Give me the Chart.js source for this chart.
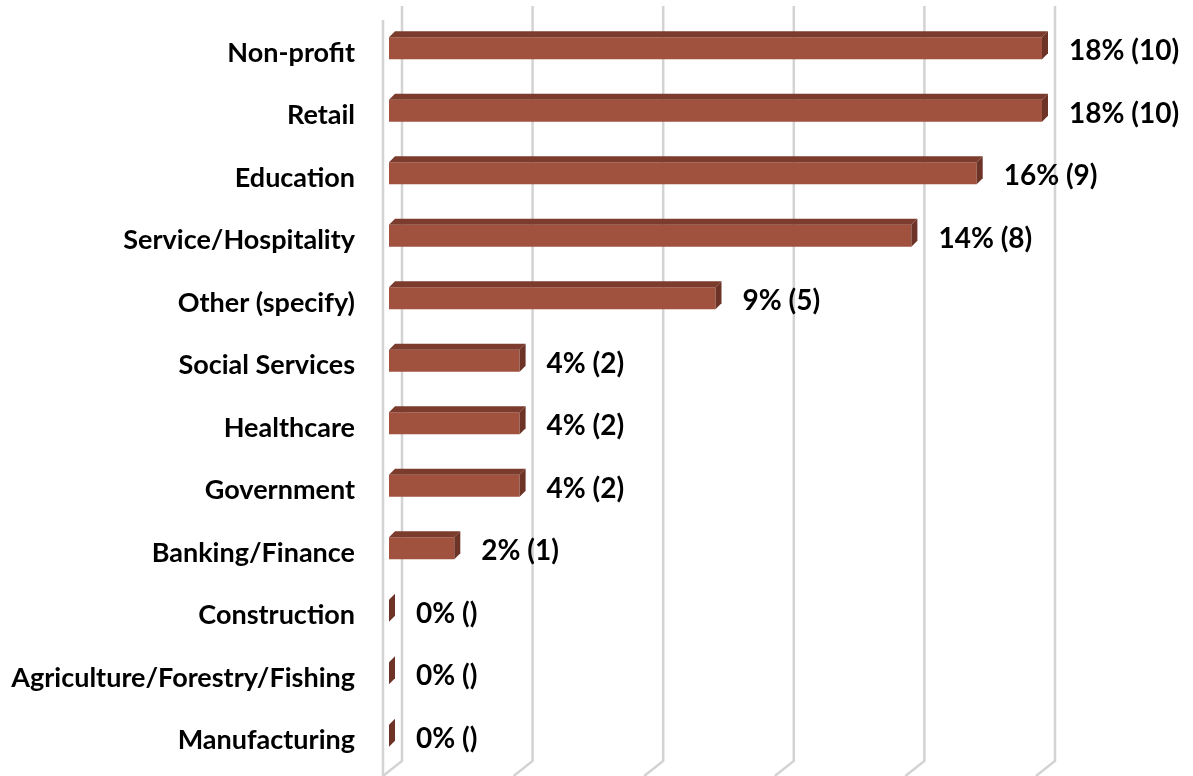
<!DOCTYPE html>
<html>
<head>
<meta charset="utf-8">
<script src="https://cdn.jsdelivr.net/npm/chart.js@4/dist/chart.umd.min.js"></script>
<style>
  html, body { margin: 0; padding: 0; background: #fff; }
  #wrap { width: 1193px; height: 776px; position: relative; }
</style>
</head>
<body>
<div id="wrap"><canvas id="chartSetor"></canvas></div>
<script>
/* =========================
   DADOS
========================= */

const categorias = [
  "Non-profit",
  "Retail",
  "Education",
  "Service/Hospitality",
  "Other (specify)",
  "Social Services",
  "Healthcare",
  "Government",
  "Banking/Finance",
  "Construction",
  "Agriculture/Forestry/Fishing",
  "Manufacturing"
];

const contagens = [10, 10, 9, 8, 5, 2, 2, 2, 1, 0, 0, 0];
const percentuais = [18, 18, 16, 14, 9, 4, 4, 4, 2, 0, 0, 0];

const gradeValores = [0, 2, 4, 6, 8, 10];

/* =========================
   ESTILO 3D
========================= */

const FONTE = "Lato";
const COR_FRENTE = "#a0523e";
const COR_TOPO = "#7b3b2d";
const COR_LADO = "#6c3326";
const COR_GRADE = "#d3d3d3";

// profundidade da "caixa" (parede do fundo)
const FUNDO_DX = 19;
const FUNDO_DY = 15;
// posição da barra dentro da profundidade
const BARRA_DX = 6;
const BARRA_DY = 6;

/* =========================
   PLUGIN: GRADE + FACES
========================= */

const grade3d = {
  id: "grade3d",
  beforeDatasetsDraw(chart) {
    const { ctx, chartArea, scales } = chart;
    const x = scales.x;
    const topoFundo = 6;
    const chaoFundo = chartArea.bottom - 6;

    ctx.save();
    ctx.strokeStyle = COR_GRADE;
    ctx.lineWidth = 2.5;

    gradeValores.forEach(v => {
      // linha do fundo fica atrás da barra
      const xf = x.getPixelForValue(v) + (FUNDO_DX - BARRA_DX);
      ctx.beginPath();
      ctx.moveTo(xf, topoFundo);
      ctx.lineTo(xf, chaoFundo);
      ctx.lineTo(xf - FUNDO_DX, chaoFundo + FUNDO_DY);
      ctx.stroke();
    });

    // aresta da frente da parede esquerda
    const xParede = x.getPixelForValue(0) - BARRA_DX;
    ctx.beginPath();
    ctx.moveTo(xParede, topoFundo + FUNDO_DY - 1);
    ctx.lineTo(xParede, chart.height);
    ctx.stroke();
    ctx.restore();
  },

  afterDatasetsDraw(chart) {
    const { ctx } = chart;
    const meta = chart.getDatasetMeta(0);

    ctx.save();
    meta.data.forEach((bar, i) => {
      const base = bar.base;
      const fim = bar.x;
      const topo = bar.y - bar.height / 2;
      const baixo = bar.y + bar.height / 2;

      // face de cima
      if (fim > base) {
        ctx.fillStyle = COR_TOPO;
        ctx.beginPath();
        ctx.moveTo(base, topo);
        ctx.lineTo(base + BARRA_DX, topo - BARRA_DY);
        ctx.lineTo(fim + BARRA_DX, topo - BARRA_DY);
        ctx.lineTo(fim, topo);
        ctx.closePath();
        ctx.fill();
      }

      // face lateral (aparece mesmo com valor zero)
      ctx.fillStyle = COR_LADO;
      ctx.beginPath();
      ctx.moveTo(fim, topo);
      ctx.lineTo(fim + BARRA_DX, topo - BARRA_DY);
      ctx.lineTo(fim + BARRA_DX, baixo - BARRA_DY);
      ctx.lineTo(fim, baixo);
      ctx.closePath();
      ctx.fill();

      // rótulo "pct% (n)"
      const n = contagens[i];
      const texto = percentuais[i] + "% (" + (n ? n : "") + ")";
      ctx.fillStyle = "#000";
      ctx.font = "bold 28px " + FONTE;
      ctx.textAlign = "left";
      ctx.textBaseline = "middle";
      ctx.fillText(texto, fim + 27, bar.y + 3);
    });
    ctx.restore();
  }
};

/* =========================
   CHART
========================= */

const canvasSetor = document.getElementById("chartSetor");

new Chart(canvasSetor, {
  type: "bar",
  data: {
    labels: categorias,
    datasets: [
      {
        data: contagens,
        backgroundColor: COR_FRENTE,
        borderWidth: 0,
        categoryPercentage: 1,
        barPercentage: 0.352
      }
    ]
  },
  options: {
    indexAxis: "y",
    responsive: true,
    maintainAspectRatio: false,
    animation: false,
    layout: {
      padding: { top: 17, bottom: 9, right: 151, left: 0 }
    },
    scales: {
      x: {
        display: false,
        min: 0,
        max: 10,
        ticks: { stepSize: 2 }
      },
      y: {
        grid: { display: false },
        border: { display: false },
        afterFit(scale) {
          // largura fixa e sem folga extra em cima/embaixo
          scale.width = 389;
          scale.paddingTop = 0;
          scale.paddingBottom = 0;
        },
        ticks: {
          color: "#000",
          padding: 26,
          labelOffset: 5,
          font: { family: FONTE, weight: "bold", size: 27 }
        }
      }
    },
    plugins: {
      legend: { display: false },
      tooltip: { enabled: false }
    }
  },
  plugins: [grade3d]
});
</script>
</body>
</html>
